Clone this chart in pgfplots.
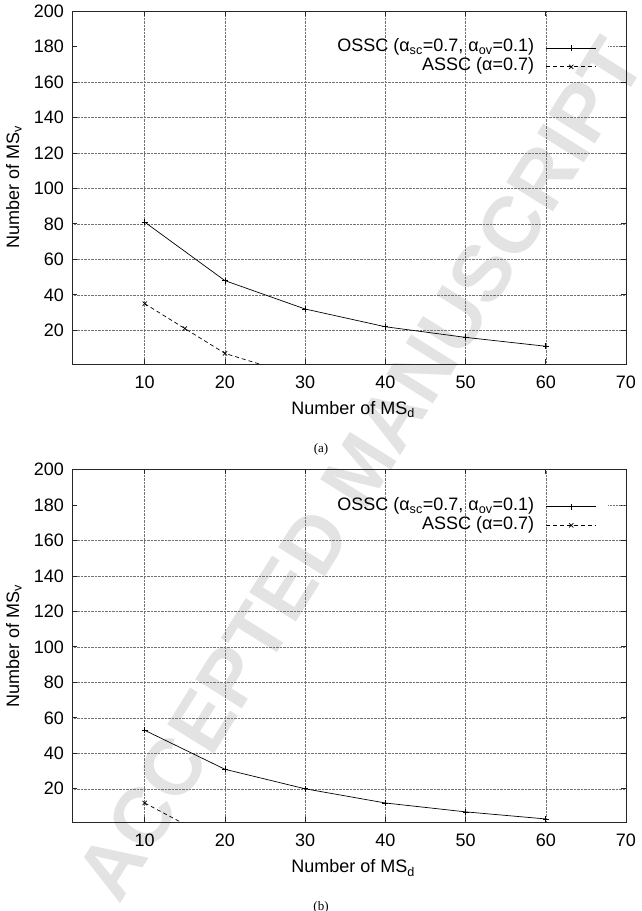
\documentclass[border=0pt]{standalone}
\usepackage{fontspec}
\setmainfont{Liberation Sans}
\newfontfamily\serifcap{Liberation Serif}
\usepackage{pgfplots}
\pgfplotsset{compat=1.18}

\pgfplotstableread{
x y
10 81
20 48
30 32
40 22
50 16
60 11
}\osscA
\pgfplotstableread{
x y
10 35
15 21
20 7
25 0
30 0
}\asscA
\pgfplotstableread{
x y
10 53
20 31
30 20
40 12
50 7
60 3
}\osscB
\pgfplotstableread{
x y
10 12
15 0
20 0
}\asscB

\pgfplotsset{
  gpstyle/.style={
    scale only axis,
    width=553.5pt, height=353pt,
    xmin=1, xmax=70, ymin=1, ymax=200,
    xtick={10,20,...,70},
    ytick={20,40,...,160,200},
    extra y ticks={180},
    extra y tick style={grid=none},
    grid=major,
    major grid style={densely dotted, line width=0.5pt, black!55},
    tick align=inside,
    major tick length=5pt,
    axis line style={line width=0.8pt, black!85},
    every tick/.style={line width=0.8pt, black!85},
    font=\fontsize{18}{21.6}\selectfont,
    /pgf/number format/assume math mode=true,
    ticklabel style={font=\fontsize{18}{21.6}\selectfont},
    xticklabel style={yshift=-8pt},
    yticklabel style={xshift=-5pt},
    xlabel={Number of MS\textsubscript{d}},
    ylabel={Number of MS\textsubscript{v}},
    every axis x label/.style={at={(axis description cs:0.507,-0.129)},anchor=center},
    every axis y label/.style={at={(axis description cs:-0.106,0.5)},rotate=90,anchor=center},
    legend plot pos=right,
    legend cell align=right,
    legend style={at={(axis description cs:0.9471,0.9214)}, anchor=north east,
      draw=none, fill=none, inner sep=0pt, column sep=11.7pt, row sep=0pt,
      font=\fontsize{18}{21.6}\selectfont,
      nodes={inner sep=0pt, text height=13pt, text depth=5.6pt}},
    legend image code/.code={%
      \draw[mark repeat=2,mark phase=2,#1] plot coordinates {(0pt,0pt) (25pt,0pt) (50pt,0pt)};},
  },
  osscstyle/.style={black, line width=0.7pt, mark=+, mark size=3pt, mark options={solid}},
  asscstyle/.style={black, line width=0.7pt, dash pattern=on 4pt off 3pt, mark=x, mark size=3pt, mark options={solid}},
}

\begin{document}
\begin{tikzpicture}[x=1pt,y=1pt]
\useasboundingbox (0,0) rectangle (642,911);
% watermark
\node[rotate=58, text=black!11, font=\bfseries\fontsize{80}{90}\selectfont] at (360,442) {ACCEPTED MANUSCRIPT};

\begin{axis}[gpstyle, at={(72.5pt,547pt)}, anchor=south west]
\draw[densely dotted, line width=0.5pt, black!55] (axis cs:67.8,180) -- (axis cs:70,180);
\addplot[osscstyle] table[x=x,y=y] {\osscA};
\addlegendentry{OSSC (α\textsubscript{sc}=0.7, α\textsubscript{ov}=0.1)}
\addplot[asscstyle] table[x=x,y=y] {\asscA};
\addlegendentry{ASSC (α=0.7)}
\end{axis}

\begin{axis}[gpstyle, at={(72.5pt,88.5pt)}, anchor=south west]
\draw[densely dotted, line width=0.5pt, black!55] (axis cs:67.8,180) -- (axis cs:70,180);
\addplot[osscstyle] table[x=x,y=y] {\osscB};
\addlegendentry{OSSC (α\textsubscript{sc}=0.7, α\textsubscript{ov}=0.1)}
\addplot[asscstyle] table[x=x,y=y] {\asscB};
\addlegendentry{ASSC (α=0.7)}
\end{axis}

\node[font=\serifcap\fontsize{13}{15}\selectfont] at (321,462) {(a)};
\node[font=\serifcap\fontsize{13}{15}\selectfont] at (321,4) {(b)};
\end{tikzpicture}
\end{document}
